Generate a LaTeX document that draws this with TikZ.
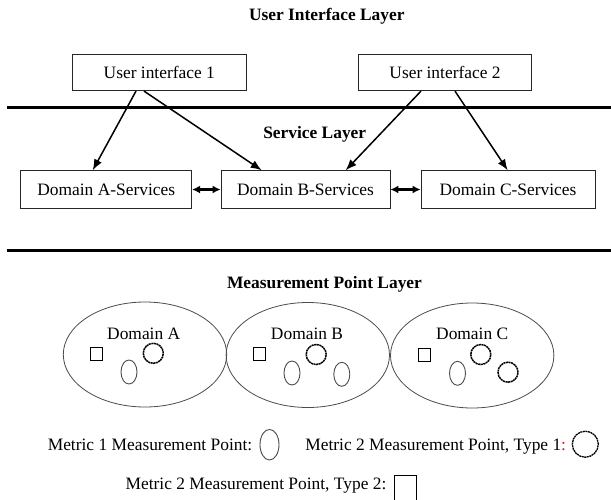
\documentclass[tikz,border=0pt]{standalone}
\usepackage{fontspec}
\setmainfont{Liberation Serif}
\usetikzlibrary{arrows.meta,calc,shapes.geometric}
\begin{document}
\begin{tikzpicture}[x=1pt,y=-1pt,
  every node/.style={font=\fontsize{17.4}{20}\selectfont},
  title/.style={font=\fontsize{17.4}{20}\selectfont\bfseries, inner sep=0pt, anchor=mid},
  txt/.style={inner sep=0pt, anchor=mid},
  box/.style={draw=black!85, line width=0.8pt, rectangle, inner sep=0pt, minimum height=37.6pt},
  rule/.style={line width=2.5pt},
  arr/.style={line width=1.5pt, -{Latex[length=11pt,width=8.5pt]}},
  darr/.style={line width=2.2pt, {Latex[length=8pt,width=8pt]}-{Latex[length=8pt,width=8pt]}},
  dom/.style={draw=black!70, line width=0.8pt, ellipse, inner sep=0pt, minimum width=163.4pt, minimum height=105pt},
  mone/.style={draw=black!70, line width=0.9pt, ellipse, inner sep=0pt, minimum width=16pt, minimum height=24pt},
  mtwo/.style={draw=black, line width=1.5pt, circle, inner sep=0pt, minimum size=20pt, dash pattern=on 2pt off 0.6pt},
  msq/.style={draw=black, line width=0.8pt, rectangle, inner sep=0pt, minimum width=12pt, minimum height=13pt}
]
\useasboundingbox (0,0) rectangle (611,499);
\fill[white] (0,0) rectangle (611,499);

% titles
\node[title] (t1) at (326.8,18.5) {User Interface Layer};
\node[title] (t2) at (314.7,136.5) {Service Layer};
\node[title] (t3) at (324.5,286.5) {Measurement Point Layer};

% rules
\coordinate (r1a) at (6.7,107.7); \coordinate (r1b) at (611,107.7);
\coordinate (r2a) at (6.7,250.7); \coordinate (r2b) at (611,250.7);
\draw[rule] (r1a) -- (r1b);
\draw[rule] (r2a) -- (r2b);

% UI boxes
\node[box, minimum width=173.3pt, minimum height=36.4pt] (ui1) at (159.3,72.5) {User interface 1};
\node[box, minimum width=173.4pt, minimum height=36.4pt] (ui2) at (445,72.5) {User interface 2};

% service boxes
\node[box, minimum width=171pt] (da) at (106.2,189.5) {Domain A-Services};
\node[box, minimum width=169pt] (db) at (305.5,189.5) {Domain B-Services};
\node[box, minimum width=174pt] (dc) at (508,189.5) {Domain C-Services};

% arrows
\draw[arr] ($(ui1.south)+(-23.3,0)$) -- ($(da.north)+(-13.5,0)$);
\draw[arr] ($(ui1.south)+(-15.3,0)$) -- ($(db.north)+(-43.8,0)$);
\draw[arr] ($(ui2.south)+(-24,0)$) -- ($(db.north)+(40.2,0)$);
\draw[arr] ($(ui2.south)+(10,0)$) -- ($(dc.north)+(-0.3,0)$);
\draw[darr] (da.east) -- (db.west);
\draw[darr] (db.east) -- (dc.west);

% domains
\node[dom] (ea) at (145,354.5) {};
\node[dom] (eb) at (307.8,355) {};
\node[dom] (ec) at (472.2,355.5) {};
\node[txt] (la) at (143.7,337) {Domain A};
\node[txt] (lb) at (307,337) {Domain B};
\node[txt] (lc) at (472.2,337) {Domain C};

% measurement points
\node[msq] (sa) at (96.7,354) {};
\node[msq] (sb) at (259.5,354) {};
\node[msq] (sc) at (424.7,355) {};
\node[mtwo] (ca) at (153.3,353.3) {};
\node[mtwo] (cb) at (316.2,354.5) {};
\node[mtwo] (cc1) at (480.8,354.5) {};
\node[mtwo] (cc2) at (508,372.2) {};
\node[mone] (oa) at (129,372) {};
\node[mone] (ob1) at (292,373) {};
\node[mone] (ob2) at (341.8,374.3) {};
\node[mone] (oc) at (457.5,373.3) {};

% legend
\node[txt] (l1) at (150,448.5) {Metric 1 Measurement Point:};
\node[mone, minimum width=19pt, minimum height=30.6pt] (l1s) at (269.5,444.7) {};
\node[txt] (l2) at (435.7,448.5) {Metric 2 Measurement Point, Type 1\textcolor{red}{:}};
\node[mtwo, minimum size=26pt, line width=1.3pt] (l2s) at (585.3,444.2) {};
\node[txt] (l3) at (256,487) {Metric 2 Measurement Point, Type 2:};
\node[msq, minimum width=22.4pt, minimum height=25pt] (l3s) at (405.5,487.5) {};
\end{tikzpicture}
\end{document}
